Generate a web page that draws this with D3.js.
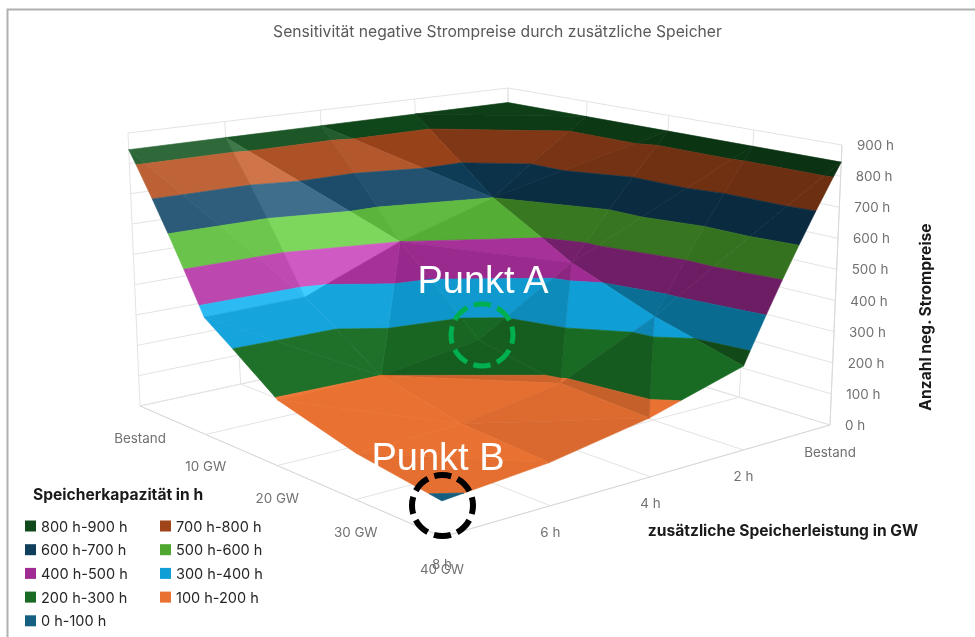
<!DOCTYPE html>
<html><head><meta charset="utf-8">
<script src="https://cdn.jsdelivr.net/npm/d3@7"></script>
<style>html,body{margin:0;padding:0;background:#fff}svg{display:block;filter:blur(.45px)}text{font-family:Inter,"Open Sans",sans-serif}</style>
</head><body><svg id="c" width="975" height="637"></svg>
<script>
const title = "Sensitivität negative Strompreise durch zusätzliche Speicher";
const gwLabels = ["Bestand","10 GW","20 GW","30 GW","40 GW"];
const hourLabels = ["Bestand","2 h","4 h","6 h","8 h"];
const zTicks = [0,100,200,300,400,500,600,700,800,900];
const seriesNames = ["800 h-900 h","700 h-800 h","600 h-700 h","500 h-600 h","400 h-500 h","300 h-400 h","200 h-300 h","100 h-200 h","0 h-100 h"];
const seriesColors = ["#104A1B","#A0451A","#0F3F5C","#4EA72E","#A02B93","#0F9ED5","#196B24","#E97132","#156082"];
// Hours of negative prices: row = added GW, column = added storage duration
const bestand = [845,845,845,845,845];
const gw10 = [845,600,500,372,368];
const gw20 = [845,440,245,200,195];
const gw30 = [845,335,190,140,130];
const gw40 = [845,258,172,120,95];
const hours = [bestand,gw10,gw20,gw30,gw40];
// facet brightness per surface cell, two triangles each
const shade = [
 [[.85,.80],[.95,1.15],[1.10,1.38],[1.25,1.22]],
 [[.75,.72],[1.05,.97],[.95,1.05],[1.05,1.05]],
 [[.70,.70],[1.0,.88],[.88,.98],[1.0,1.0]],
 [[.68,.68],[1.0,.85],[.95,.93],[1.0,.98]]
];

const svg = d3.select("#c");
// perspective frame of the plot box
const floorQuad = {B:[507,326],L:[140,406],R:[830,425],F:[442,537]};
const ceilQuad  = {B:[508,88],L:[128,133],R:[842,145],F:[441,195]};
function homography(q){
  const [x0,y0]=q.B,[x1,y1]=q.R,[x2,y2]=q.F,[x3,y3]=q.L;
  const dx1=x1-x2,dx2=x3-x2,sx=x0-x1+x2-x3,dy1=y1-y2,dy2=y3-y2,sy=y0-y1+y2-y3;
  const d=dx1*dy2-dx2*dy1;
  const g=(sx*dy2-dx2*sy)/d,h=(dx1*sy-sx*dy1)/d;
  const a=x1-x0+g*x1,b=x3-x0+h*x3,e=y1-y0+g*y1,f=y3-y0+h*y3;
  return (u,v)=>{const w=g*u+h*v+1;return [(a*u+b*v+x0)/w,(e*u+f*v+y0)/w];};
}
const H0=homography(floorQuad),H1=homography(ceilQuad);
const uScale=d3.scalePoint().domain(gwLabels).range([0,1]);
const vScale=d3.scalePoint().domain(hourLabels).range([0,1]);
const zScale=d3.scaleLinear().domain([0,900]).range([0,1]);
function project(u,v,z){
  const t=zScale(z),a=H0(u,v),b=H1(u,v);
  return [a[0]+(b[0]-a[0])*t,a[1]+(b[1]-a[1])*t];
}
const line=d3.line();
const grid="#e3e3e3";
const gGrid=svg.append("g").attr("fill","none").attr("stroke",grid).attr("stroke-width",1);
const U=uScale,V=vScale;
// walls and floor
zTicks.forEach(z=>{
  gGrid.append("path").attr("d",line([project(0,1,z),project(0,0,z),project(1,0,z)]));
});
gwLabels.forEach(g=>{
  gGrid.append("path").attr("d",line([project(U(g),1,0),project(U(g),0,0),project(U(g),0,900)]));
});
hourLabels.forEach(h=>{
  gGrid.append("path").attr("d",line([project(1,V(h),0),project(0,V(h),0),project(0,V(h),900)]));
});
gGrid.append("path").attr("d",line([project(0,1,0),project(1,1,0),project(1,0,0)])).attr("stroke","#d9d9d9");
gGrid.append("path").attr("d",line([project(1,0,0),project(1,0,900)])).attr("stroke","#d9d9d9");

// surface
function clip(poly,level,keepAbove){
  const out=[];
  for(let k=0;k<poly.length;k++){
    const p=poly[k],q=poly[(k+1)%poly.length];
    const pi=keepAbove?p[2]>=level:p[2]<=level, qi=keepAbove?q[2]>=level:q[2]<=level;
    if(pi)out.push(p);
    if(pi!==qi){const t=(level-p[2])/(q[2]-p[2]);out.push([p[0]+(q[0]-p[0])*t,p[1]+(q[1]-p[1])*t,level]);}
  }
  return out;
}
function tint(c,k){
  const r=d3.rgb(c);
  if(k<=1)return d3.rgb(r.r*k,r.g*k,r.b*k).formatHex();
  const add=125*(k-1);
  return d3.rgb(r.r+add,r.g+add,r.b+add).formatHex();
}
const facets=[];
const vtx=(i,j)=>[U(gwLabels[i]),V(hourLabels[j]),hours[i][j]];
for(let i=0;i<4;i++)for(let j=0;j<4;j++){
  const a=vtx(i,j),b=vtx(i+1,j),c=vtx(i+1,j+1),d=vtx(i,j+1);
  // each cell folds along its higher diagonal
  const ridgeAC=a[2]+c[2]>b[2]+d[2];
  const t1=ridgeAC?[a,b,c]:[a,b,d], t2=ridgeAC?[a,c,d]:[b,c,d];
  facets.push({tri:t1,k:shade[i][j][0],o:i+j});
  facets.push({tri:t2,k:shade[i][j][1],o:i+j+.5});
}
facets.sort((a,b)=>a.o-b.o);
const gS=svg.append("g");
const bands=seriesNames.map((n,k)=>({c:seriesColors[k],hi:900-100*k,lo:800-100*k}));
facets.forEach(f=>{
  bands.forEach(b=>{
    let p=clip(clip(f.tri,b.lo,true),b.hi,false);
    if(p.length<3)return;
    const col=tint(b.c,f.k);
    gS.append("path").attr("d",line(p.map(d=>project(d[0],d[1],d[2])))+"Z").attr("fill",col).attr("stroke",col).attr("stroke-width",.6);
  });
});

// ticks
const tickCol="#707070";
const gT=svg.append("g").attr("fill",tickCol).attr("font-size",13.4).attr("text-anchor","middle");
gwLabels.forEach(g=>{const p=project(U(g),1,0);gT.append("text").attr("x",p[0]).attr("y",p[1]+37).text(g);});
hourLabels.forEach(h=>{const p=project(1,V(h),0);gT.append("text").attr("x",p[0]).attr("y",p[1]+31.5).text(h);});
zTicks.forEach(z=>{const p=project(1,0,z);gT.append("text").attr("x",p[0]+15).attr("y",p[1]+5).attr("text-anchor","start").text(z+" h");});

svg.append("text").attr("x",497.5).attr("y",37).attr("text-anchor","middle").attr("font-size",15.7).attr("fill","#595959").text(title);
const bold=(x,y,t,a)=>svg.append("text").attr("x",x).attr("y",y).attr("text-anchor",a||"start").attr("font-size",15.6).attr("font-weight",700).attr("fill","#1a1a1a").text(t);
bold(783,536,"zusätzliche Speicherleistung in GW","middle");
bold(0,0,"Anzahl neg. Strompreise","middle").attr("transform","translate(931,317) rotate(-90)");
bold(33,500,"Speicherkapazität in h");
// legend
const lg=svg.append("g").attr("font-size",14.5).attr("fill","#262626");
seriesNames.forEach((n,k)=>{
  const col=k%2,row=Math.floor(k/2);
  const x=25+col*135,y=526+row*23.7;
  lg.append("rect").attr("x",x).attr("y",y-5.5).attr("width",11).attr("height",11).attr("fill",seriesColors[k]);
  lg.append("text").attr("x",x+16).attr("y",y+5.5).text(n);
});
// callouts
svg.append("text").attr("x",483).attr("y",293).attr("text-anchor","middle").attr("font-size",38).attr("fill","#fff").style("font-family","Liberation Sans").text("Punkt A");
svg.append("text").attr("x",438).attr("y",470).attr("text-anchor","middle").attr("font-size",38).attr("fill","#fff").style("font-family","Liberation Sans").text("Punkt B");
const ring=(cx,cy,r,w,c)=>{
  const seg=2*Math.PI*r/8, dash=seg*.72;
  svg.append("circle").attr("cx",cx).attr("cy",cy).attr("r",r).attr("fill","none").attr("stroke",c).attr("stroke-width",w)
    .attr("stroke-dasharray",dash+" "+(seg-dash)).attr("stroke-dashoffset",dash/2);
};
ring(482,335,31,5,"#00B050");
ring(442.5,505.5,30.5,6,"#000");
// frame
svg.append("path").attr("d","M7.5,637V9.5H975").attr("fill","none").attr("stroke","#b0b0b0").attr("stroke-width",2);
</script></body></html>
